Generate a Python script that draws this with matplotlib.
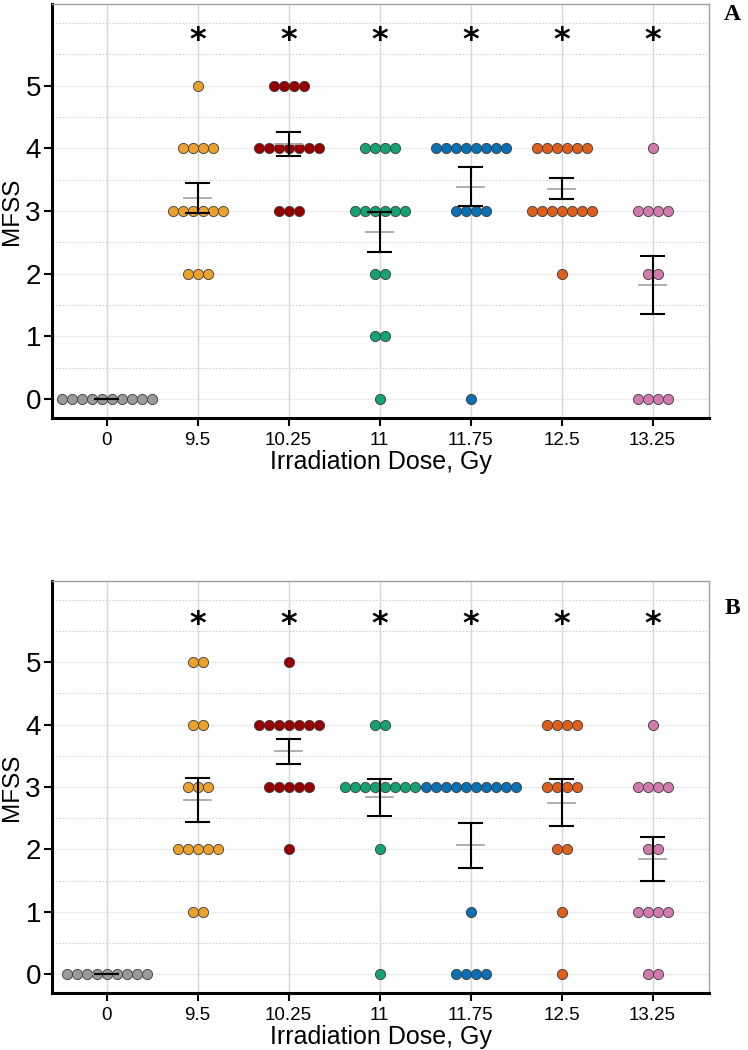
import numpy as np
import matplotlib
matplotlib.use("Agg")
import matplotlib.pyplot as plt

plt.rcParams['font.family'] = ['Liberation Sans', 'DejaVu Sans']

doses = ["0", "9.5", "10.25", "11", "11.75", "12.5", "13.25"]
levels = [0, 1, 2, 3, 4, 5]
colors = ["#9a9a9a", "#eca12c", "#960000", "#17a276", "#0a70b4", "#de5f1c", "#d27aae"]

# number of mice at each MFSS level 0..5, one row per dose
counts_a = [
    [10, 0, 0, 0, 0, 0],
    [0, 0, 3, 6, 4, 1],
    [0, 0, 0, 3, 7, 4],
    [1, 2, 2, 6, 4, 0],
    [1, 0, 0, 4, 8, 0],
    [0, 0, 1, 7, 6, 0],
    [4, 0, 2, 4, 1, 0],
]
counts_b = [
    [9, 0, 0, 0, 0, 0],
    [0, 2, 5, 3, 2, 2],
    [0, 0, 1, 5, 7, 1],
    [1, 0, 1, 8, 2, 0],
    [4, 1, 0, 10, 0, 0],
    [1, 1, 2, 4, 4, 0],
    [2, 4, 2, 4, 1, 0],
]
panels = ["A", "B"]

dx = 0.11


def draw(ax, counts, star_y):
    for yv in levels:
        ax.axhline(yv, color="#ececec", lw=1.0, zorder=0)
    for yv in np.arange(0.5, 6.01, 0.5):
        if yv % 1 != 0 or yv == 6:
            ax.axhline(yv, color="#d4d4d4", lw=0.8, ls=(0, (1.5, 1.5)), zorder=0)
    for i in range(len(doses)):
        ax.axvline(i, color="#d6d6d6", lw=1.0, zorder=0)

    for i, row in enumerate(counts):
        vals = []
        for lev, n in zip(levels, row):
            if n == 0:
                continue
            xs = i + (np.arange(n) - (n - 1) / 2) * dx
            ax.scatter(xs, [lev] * n, s=54, color=colors[i], edgecolor="#3a3a3a",
                       linewidth=0.6, zorder=3)
            vals += [lev] * n
        vals = np.array(vals, dtype=float)
        m = vals.mean()
        se = vals.std(ddof=1) / np.sqrt(len(vals))
        ax.plot([i - 0.15, i + 0.15], [m, m], color="#a8a8a8", lw=1.3, zorder=4)
        ax.plot([i, i], [m - se, m + se], color="black", lw=1.5, zorder=5)
        ax.plot([i - 0.125, i + 0.125], [m - se] * 2, color="black", lw=1.5, zorder=5)
        ax.plot([i - 0.125, i + 0.125], [m + se] * 2, color="black", lw=1.5, zorder=5)
        if i > 0:
            ax.text(i, star_y, "*", ha="center", va="center", fontsize=23,
                    fontweight="bold", family="DejaVu Sans", zorder=6)

    ax.set_xlim(-0.6, 6.62)
    ax.set_ylim(-0.3, 6.3)
    ax.set_xticks(range(len(doses)))
    ax.set_xticklabels(doses, fontsize=13.5)
    ax.set_yticks(levels[:6])
    ax.set_yticklabels([str(v) for v in levels], fontsize=20)
    ax.tick_params(axis="both", length=6, width=1.5, color="black", pad=2)
    ax.tick_params(axis="x", pad=4)
    ax.set_xlabel("Irradiation Dose, Gy", fontsize=18, labelpad=1)
    ax.set_ylabel("MFSS", fontsize=17.5, labelpad=2)
    for s in ["left", "bottom"]:
        ax.spines[s].set_linewidth(2.2)
        ax.spines[s].set_color("black")
    for s in ["top", "right"]:
        ax.spines[s].set_linewidth(1.0)
        ax.spines[s].set_color("#a0a0a0")


fig = plt.figure(figsize=(7.48, 10.5), dpi=100)
ax_a = fig.add_axes([52 / 748, 1 - 418 / 1050, (709 - 52) / 748, (418 - 4) / 1050])
ax_b = fig.add_axes([52 / 748, 1 - 993 / 1050, (709 - 52) / 748, (993 - 581) / 1050])
draw(ax_a, counts_a, 5.72)
draw(ax_b, counts_b, 5.6)

fig.text(732 / 748, 1 - 14 / 1050, panels[0], ha="center", va="center", fontsize=17,
         fontweight="bold", family="Liberation Serif")
fig.text(732 / 748, 1 - 608 / 1050, panels[1], ha="center", va="center", fontsize=17,
         fontweight="bold", family="Liberation Serif")

fig.savefig("out.png", dpi=100)
